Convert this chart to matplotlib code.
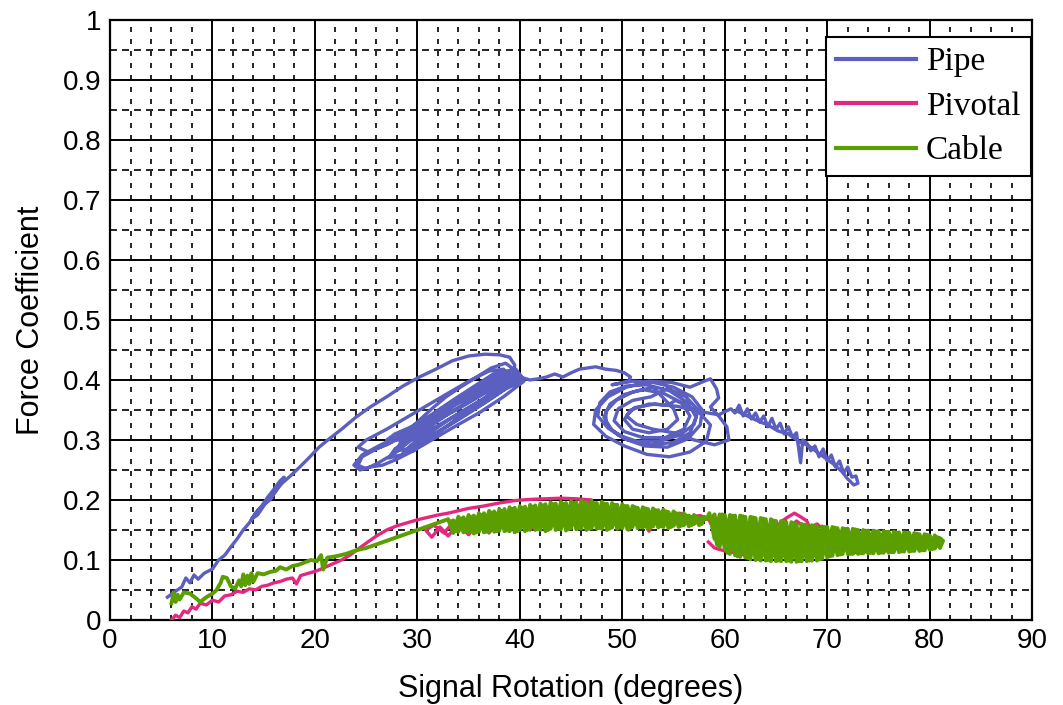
import matplotlib
matplotlib.use("Agg")
import matplotlib.pyplot as plt
from matplotlib.ticker import MultipleLocator, FixedLocator, FixedFormatter

# ---------------- data ----------------
pipe_x = [5.6, 6.4, 7.0, 7.4, 7.8, 8.2, 8.6, 9.2, 10.0, 10.6, 11.2, 11.8, 12.4, 13.0, 13.6, 14.2, 14.8, 15.4, 16.0, 16.6, 17.0,
          16.2, 15.6, 15.0, 14.4, 13.8, 14.4, 15.2, 16.0, 16.8, 17.6, 18.4, 19.4, 20.4, 21.4, 22.6, 24.0, 25.4, 27.0, 28.6,
          30.2, 31.8, 33.4, 35.0, 36.6, 38.0, 39.0, 39.5, 39.4, 38.6,
          37.0, 35.0, 33.0, 31.0, 29.0, 27.0, 25.2, 24.2, 25.0, 27.0, 29.0, 31.0, 33.0, 35.0, 37.0, 38.4, 39.0,
          37.6, 35.6, 33.4, 31.2, 29.4, 27.8, 26.2, 25.0, 24.2, 24.6, 26.0, 27.6, 29.6, 31.6, 33.6, 35.6, 37.4, 39.6, 40.2,
          38.8, 36.8, 34.6, 32.4, 30.4, 29.0, 28.0, 28.4, 29.8, 31.6, 33.4, 35.2, 36.8, 38.2, 39.4,
          37.6, 35.4, 33.2, 31.2, 29.4, 28.6, 29.6, 31.0, 32.8, 34.6, 36.4, 38.0, 39.6, 40.4,
          38.4, 36.0, 33.6, 31.4, 29.6, 28.0, 26.6, 25.4, 24.4, 23.8, 24.6, 26.2, 28.0, 29.0, 30.0, 31.4, 32.8, 34.2, 35.8,
          37.2, 38.6, 39.4,
          38.0, 36.2, 34.0, 32.0, 30.2, 28.8, 29.6, 31.4, 33.4, 35.4, 37.4, 39.2, 40.2,
          38.6, 36.6, 34.4, 32.2, 30.2, 28.4, 27.2, 27.8, 29.4, 31.2, 33.0, 34.8, 36.6, 38.4, 39.8,
          38.2, 36.0, 33.8, 31.6, 29.8, 28.2, 27.0, 27.8, 29.4, 31.2, 33.2, 35.2, 37.2, 38.8, 40.0,
          41.0, 41.8, 42.6, 43.4, 44.2, 45.0, 45.8, 46.6, 47.4, 48.4, 49.4, 50.2, 50.8, 50.6,
          49.0, 51.0, 53.0, 55.0, 56.8, 57.8, 57.6, 56.4, 54.4, 52.2, 50.2, 48.6, 47.6, 47.8, 48.8, 50.4,
          52.4, 54.6, 56.4, 57.2, 56.6, 55.0, 52.8, 50.6, 49.0, 48.2, 48.8, 50.2, 52.0,
          54.0, 55.8, 56.6, 56.0, 54.2, 52.0, 50.2, 49.2, 49.6, 51.0, 52.8,
          54.4, 56.2, 57.4, 57.0, 55.6, 53.6, 51.4, 49.6, 48.4, 48.4, 49.4, 51.0, 53.0,
          55.0, 55.4, 54.4, 52.6, 51.0, 50.2, 50.8, 52.6, 54.4,
          55.2, 57.4, 58.6, 58.2, 56.6, 54.6, 52.4, 50.2, 48.4, 47.2, 47.4, 48.6, 50.4, 52.6, 54.8, 56.6, 58.0, 58.6, 59.2,
          59.4,
          58.6, 59.4, 60.2, 60.4, 59.0, 57.0, 55.0, 53.0, 51.4, 50.4, 51.2, 53.2, 55.4, 57.4, 59.4,
          60.6, 61.0, 61.4, 61.8, 62.2, 62.6, 63.0, 63.4, 63.8, 64.2, 64.6, 65.0, 65.4, 65.8, 66.2, 66.6, 67.0, 67.4, 67.6,
          68.0, 68.4, 68.8, 69.2, 69.6, 70.0, 70.4, 70.8, 71.2, 71.6, 72.0, 72.4, 72.8, 73.0, 72.6, 72.0, 71.4, 70.6, 69.8,
          69.0, 68.2, 67.2, 66.2, 65.2, 64.2, 63.2, 62.2, 61.2]
pipe_y = [0.038, 0.048, 0.055, 0.070, 0.062, 0.075, 0.068, 0.078, 0.085, 0.100, 0.108, 0.122, 0.135, 0.150, 0.162, 0.178,
          0.190, 0.205, 0.218, 0.232, 0.238,
          0.215, 0.200, 0.192, 0.182, 0.168, 0.175, 0.195, 0.212, 0.228, 0.240, 0.253, 0.270, 0.288, 0.302, 0.318, 0.338,
          0.355, 0.372, 0.390, 0.405, 0.418, 0.432, 0.440, 0.443, 0.442, 0.438, 0.425, 0.410, 0.405,
          0.400, 0.378, 0.355, 0.332, 0.310, 0.292, 0.280, 0.288, 0.300, 0.318, 0.338, 0.358, 0.378, 0.398, 0.415, 0.418,
          0.408,
          0.392, 0.372, 0.348, 0.322, 0.300, 0.278, 0.262, 0.252, 0.258, 0.272, 0.285, 0.298, 0.322, 0.345, 0.368, 0.390,
          0.410, 0.418, 0.405,
          0.388, 0.365, 0.342, 0.318, 0.298, 0.285, 0.282, 0.298, 0.318, 0.340, 0.362, 0.382, 0.400, 0.412, 0.405,
          0.380, 0.358, 0.335, 0.312, 0.292, 0.278, 0.282, 0.300, 0.322, 0.345, 0.368, 0.390, 0.402, 0.398,
          0.372, 0.345, 0.322, 0.300, 0.282, 0.268, 0.258, 0.255, 0.250, 0.258, 0.275, 0.290, 0.305, 0.315, 0.330, 0.352,
          0.372, 0.388, 0.405, 0.420, 0.428, 0.418,
          0.402, 0.385, 0.365, 0.345, 0.325, 0.305, 0.300, 0.318, 0.338, 0.358, 0.378, 0.395, 0.398,
          0.385, 0.362, 0.338, 0.315, 0.292, 0.275, 0.270, 0.285, 0.305, 0.328, 0.350, 0.372, 0.392, 0.408, 0.410,
          0.395, 0.372, 0.350, 0.330, 0.312, 0.300, 0.300, 0.310, 0.322, 0.338, 0.355, 0.372, 0.392, 0.405, 0.405,
          0.400, 0.402, 0.405, 0.410, 0.405, 0.412, 0.418, 0.420, 0.422, 0.418, 0.416, 0.412, 0.405, 0.398,
          0.392, 0.398, 0.396, 0.388, 0.372, 0.350, 0.325, 0.302, 0.288, 0.290, 0.302, 0.320, 0.340, 0.362, 0.380, 0.390,
          0.392, 0.382, 0.362, 0.338, 0.312, 0.296, 0.292, 0.300, 0.316, 0.338, 0.360, 0.376, 0.384,
          0.378, 0.362, 0.340, 0.318, 0.304, 0.304, 0.314, 0.332, 0.352, 0.366, 0.372,
          0.386, 0.372, 0.350, 0.326, 0.308, 0.298, 0.298, 0.308, 0.326, 0.348, 0.366, 0.380, 0.388,
          0.352, 0.334, 0.318, 0.312, 0.318, 0.334, 0.350, 0.360, 0.358,
          0.366, 0.348, 0.325, 0.298, 0.280, 0.272, 0.276, 0.290, 0.306, 0.326, 0.350, 0.372, 0.388, 0.398, 0.396, 0.388,
          0.398, 0.402, 0.385, 0.370,
          0.355, 0.340, 0.322, 0.300, 0.292, 0.300, 0.312, 0.318, 0.326, 0.340, 0.354, 0.360, 0.356, 0.348, 0.342,
          0.352, 0.345, 0.358, 0.340, 0.352, 0.335, 0.345, 0.330, 0.340, 0.322, 0.336, 0.318, 0.328, 0.310, 0.322, 0.305,
          0.312, 0.262, 0.300, 0.295, 0.282, 0.290, 0.272, 0.285, 0.265, 0.275, 0.255, 0.265, 0.245, 0.255, 0.238, 0.240,
          0.228, 0.225, 0.235, 0.248, 0.260, 0.270, 0.280, 0.290, 0.298, 0.310, 0.315, 0.325, 0.332, 0.340, 0.348]

pivotal_x = [6.0, 6.4, 6.8, 7.2, 7.6, 8.0, 8.4, 8.8, 9.4, 10.0, 10.6, 11.2, 11.8, 12.4, 13.0, 13.6, 14.2, 14.8, 15.4, 16.0,
             16.6, 17.2, 17.8, 18.2, 18.6, 19.4, 20.2, 21.0, 21.8, 22.6, 23.4, 24.2, 25.0, 26.0, 27.0, 28.0, 29.0, 30.0,
             31.0, 32.0, 33.0, 34.0, 35.0, 36.5, 38.0, 39.5, 41.0, 42.5, 44.0, 45.5, 47.0,
             46.0, 45.0, 44.0, 43.0, 42.0, 41.0, 40.0, 39.0, 38.0, 37.0, 36.0, 35.0, 34.0, 33.0, 32.2, 31.4, 30.8, 31.6,
             32.6, 33.6,
             34.6, 35.6, 36.6, 37.6, 38.6, 39.6, 40.6, 41.6, 42.6, 43.6, 44.6, 45.6, 46.6, 47.6, 48.6, 49.6, 50.6, 51.6,
             52.6, 53.6, 54.6, 55.6, 56.6, 57.6, 58.4,
             59.0, 59.6, 60.2, 60.8, 61.4, 62.0, 62.6, 63.2, 63.8, 64.4, 65.0, 65.6, 66.2, 66.8, 67.4, 68.0, 68.4, 68.8,
             69.4, 70.0, 70.6, 71.2, 71.8, 72.6, 73.4, 74.2, 75.0, 75.8, 76.6, 77.4, 78.2, 79.0, 79.6,
             79.0, 78.0, 77.0, 76.0, 75.0, 74.0, 73.0, 72.0, 71.0, 70.0, 69.0, 68.0, 67.0, 66.0, 65.0, 64.0, 63.0, 62.0,
             61.0, 60.0, 59.0, 58.4]
pivotal_y = [0.000, 0.008, 0.004, 0.015, 0.012, 0.022, 0.018, 0.028, 0.025, 0.033, 0.030, 0.040, 0.042, 0.048, 0.046,
             0.052, 0.050, 0.056, 0.058, 0.062, 0.064, 0.068, 0.070, 0.060, 0.074, 0.078, 0.082, 0.088, 0.094, 0.100,
             0.108, 0.118, 0.128, 0.140, 0.150, 0.157, 0.162, 0.167, 0.171, 0.175, 0.178, 0.182, 0.186, 0.190, 0.195,
             0.199, 0.201, 0.202, 0.203, 0.202, 0.200,
             0.185, 0.160, 0.182, 0.155, 0.178, 0.150, 0.175, 0.148, 0.170, 0.145, 0.165, 0.142, 0.160, 0.140, 0.155,
             0.138, 0.150, 0.158, 0.145, 0.165,
             0.150, 0.172, 0.152, 0.175, 0.155, 0.180, 0.158, 0.183, 0.160, 0.185, 0.162, 0.188, 0.160, 0.185, 0.155,
             0.182, 0.150, 0.178, 0.148, 0.180, 0.175, 0.178, 0.172, 0.174, 0.168,
             0.150, 0.130, 0.145, 0.125, 0.140, 0.120, 0.145, 0.125, 0.150, 0.130, 0.155, 0.165, 0.172, 0.178, 0.172,
             0.165, 0.150, 0.140, 0.132, 0.128, 0.140, 0.125, 0.118, 0.112, 0.115, 0.112, 0.118, 0.115, 0.120, 0.118,
             0.122, 0.120, 0.125,
             0.132, 0.128, 0.135, 0.130, 0.138, 0.132, 0.140, 0.135, 0.150, 0.145, 0.160, 0.152, 0.165, 0.150, 0.140,
             0.120, 0.112, 0.108, 0.112, 0.115, 0.120, 0.130]

# cable: rising part, then noisy band 33-58, then noisy band 58-81
cable_rise_x = [6.0, 6.2, 6.4, 6.6, 6.8, 7.2, 7.8, 8.4, 8.8, 9.4, 10.0, 10.4, 10.8, 11.0, 11.4, 11.8, 12.2, 12.6, 12.8,
                13.0, 13.2, 13.4, 13.6, 13.8, 14.0, 14.4, 15.0, 15.6, 16.2, 16.6, 17.2, 17.8, 18.4, 19.0, 19.6, 20.2,
                20.6, 20.8, 21.2, 22.0, 23.0, 24.0, 25.0, 26.0, 27.0, 28.0, 29.0, 30.0, 31.0, 32.0]
cable_rise_y = [0.028, 0.045, 0.030, 0.042, 0.034, 0.046, 0.044, 0.036, 0.030, 0.038, 0.044, 0.050, 0.062, 0.072, 0.070,
                0.056, 0.052, 0.066, 0.056, 0.076, 0.058, 0.074, 0.060, 0.078, 0.064, 0.078, 0.076, 0.080, 0.082, 0.088,
                0.084, 0.090, 0.092, 0.096, 0.100, 0.098, 0.108, 0.084, 0.104, 0.106, 0.110, 0.116, 0.120, 0.126, 0.132,
                0.138, 0.144, 0.150, 0.156, 0.162]
cable_band1_x = [33.0, 33.5, 34.0, 34.5, 35.0, 35.5, 36.0, 36.5, 37.0, 37.5, 38.0, 38.5, 39.0, 39.5, 40.0, 40.5, 41.0,
                 41.5, 42.0, 42.5, 43.0, 43.5, 44.0, 44.5, 45.0, 45.5, 46.0, 46.5, 47.0, 47.5, 48.0, 48.5, 49.0, 49.5,
                 50.0, 50.5, 51.0, 51.5, 52.0, 52.5, 53.0, 53.5, 54.0, 54.5, 55.0, 55.5, 56.0, 56.5, 57.0, 57.5, 58.0,
                 57.75, 57.25, 56.75, 56.25, 55.75, 55.25, 54.75, 54.25, 53.75, 53.25, 52.75, 52.25, 51.75, 51.25,
                 50.75, 50.25, 49.75, 49.25, 48.75, 48.25, 47.75, 47.25, 46.75, 46.25, 45.75, 45.25, 44.75, 44.25,
                 43.75, 43.25, 42.75, 42.25, 41.75, 41.25, 40.75, 40.25, 39.75, 39.25, 38.75, 38.25, 37.75, 37.25,
                 36.75, 36.25, 35.75, 35.25, 34.75, 34.25, 33.75, 33.25,
                 33.5, 34.0, 34.5, 35.0, 35.5, 36.0, 36.5, 37.0, 37.5, 38.0, 38.5, 39.0, 39.5, 40.0, 40.5, 41.0, 41.5,
                 42.0, 42.5, 43.0, 43.5, 44.0, 44.5, 45.0, 45.5, 46.0, 46.5, 47.0, 47.5, 48.0, 48.5, 49.0, 49.5, 50.0,
                 50.5, 51.0, 51.5, 52.0, 52.5, 53.0, 53.5, 54.0, 54.5, 55.0, 55.5, 56.0, 56.5, 57.0, 57.5, 58.2]
cable_band1_y = [0.168, 0.145, 0.172, 0.146, 0.175, 0.144, 0.178, 0.146, 0.182, 0.147, 0.185, 0.148, 0.188, 0.146,
                 0.190, 0.148, 0.192, 0.150, 0.194, 0.148, 0.196, 0.150, 0.197, 0.149, 0.198, 0.151, 0.199, 0.150,
                 0.198, 0.152, 0.197, 0.150, 0.195, 0.152, 0.193, 0.151, 0.190, 0.153, 0.188, 0.152, 0.186, 0.154,
                 0.184, 0.153, 0.181, 0.155, 0.178, 0.156, 0.175, 0.158, 0.172,
                 0.160, 0.170, 0.158, 0.174, 0.157, 0.178, 0.155, 0.181, 0.156, 0.183, 0.154, 0.186, 0.155, 0.188,
                 0.153, 0.190, 0.154, 0.192, 0.152, 0.194, 0.153, 0.195, 0.152, 0.196, 0.153, 0.195, 0.151, 0.194,
                 0.152, 0.193, 0.150, 0.191, 0.151, 0.189, 0.150, 0.187, 0.148, 0.185, 0.149, 0.182, 0.148, 0.179,
                 0.147, 0.175, 0.146, 0.172, 0.147, 0.169, 0.148, 0.164,
                 0.166, 0.147, 0.171, 0.146, 0.174, 0.147, 0.178, 0.148, 0.181, 0.149, 0.185, 0.148, 0.187, 0.150,
                 0.189, 0.151, 0.191, 0.150, 0.193, 0.152, 0.194, 0.151, 0.195, 0.153, 0.196, 0.152, 0.196, 0.153,
                 0.195, 0.152, 0.194, 0.154, 0.192, 0.153, 0.190, 0.155, 0.187, 0.154, 0.185, 0.156, 0.183, 0.155,
                 0.180, 0.157, 0.177, 0.158, 0.174, 0.160, 0.170, 0.168]
cable_band2_x = [58.5, 59.0, 59.5, 60.0, 60.5, 61.0, 61.5, 62.0, 62.5, 63.0, 63.5, 64.0, 64.5, 65.0, 65.5, 66.0, 66.5,
                 67.0, 67.5, 68.0, 68.5, 69.0, 69.5, 70.0, 70.5, 71.0, 71.5, 72.0, 72.5, 73.0, 73.5, 74.0, 74.5, 75.0,
                 75.5, 76.0, 76.5, 77.0, 77.5, 78.0, 78.5, 79.0, 79.5, 80.0, 80.5, 81.0, 81.3,
                 80.75, 80.25, 79.75, 79.25, 78.75, 78.25, 77.75, 77.25, 76.75, 76.25, 75.75, 75.25, 74.75, 74.25,
                 73.75, 73.25, 72.75, 72.25, 71.75, 71.25, 70.75, 70.25, 69.75, 69.25, 68.75, 68.25, 67.75, 67.25,
                 66.75, 66.25, 65.75, 65.25, 64.75, 64.25, 63.75, 63.25, 62.75, 62.25, 61.75, 61.25, 60.75, 60.25,
                 59.75, 59.25, 58.75,
                 59.0, 59.5, 60.0, 60.5, 61.0, 61.5, 62.0, 62.5, 63.0, 63.5, 64.0, 64.5, 65.0, 65.5, 66.0, 66.5, 67.0,
                 67.5, 68.0, 68.5, 69.0, 69.5, 70.0, 70.5, 71.0, 71.5, 72.0, 72.5, 73.0, 73.5, 74.0, 74.5, 75.0, 75.5,
                 76.0, 76.5, 77.0, 77.5, 78.0, 78.5, 79.0, 79.5, 80.0, 80.5, 81.0]
cable_band2_y = [0.178, 0.135, 0.176, 0.118, 0.175, 0.108, 0.174, 0.104, 0.172, 0.100, 0.170, 0.099, 0.168, 0.098,
                 0.165, 0.098, 0.163, 0.097, 0.160, 0.098, 0.158, 0.099, 0.156, 0.104, 0.155, 0.108, 0.153, 0.110,
                 0.152, 0.110, 0.150, 0.111, 0.149, 0.111, 0.148, 0.112, 0.147, 0.113, 0.146, 0.114, 0.145, 0.115,
                 0.143, 0.117, 0.141, 0.120, 0.132,
                 0.138, 0.118, 0.142, 0.116, 0.144, 0.115, 0.145, 0.114, 0.146, 0.113, 0.147, 0.112, 0.148, 0.112,
                 0.149, 0.111, 0.151, 0.110, 0.152, 0.109, 0.154, 0.106, 0.155, 0.101, 0.157, 0.099, 0.159, 0.098,
                 0.161, 0.099, 0.164, 0.099, 0.166, 0.100, 0.169, 0.101, 0.171, 0.103, 0.173, 0.106, 0.174, 0.112,
                 0.176, 0.125, 0.170,
                 0.176, 0.122, 0.175, 0.110, 0.174, 0.105, 0.172, 0.101, 0.170, 0.099, 0.168, 0.098, 0.165, 0.098,
                 0.163, 0.097, 0.160, 0.098, 0.158, 0.099, 0.156, 0.102, 0.155, 0.107, 0.153, 0.110, 0.152, 0.110,
                 0.150, 0.111, 0.149, 0.111, 0.148, 0.112, 0.147, 0.113, 0.146, 0.114, 0.145, 0.115, 0.143, 0.116,
                 0.141, 0.119, 0.136]

x_ticks = [0, 10, 20, 30, 40, 50, 60, 70, 80, 90]
y_ticks = [0, 0.1, 0.2, 0.3, 0.4, 0.5, 0.6, 0.7, 0.8, 0.9, 1.0]
y_tick_labels = ['0', '0.1', '0.2', '0.3', '0.4', '0.5', '0.6', '0.7', '0.8', '0.9', '1']

# ---------------- figure ----------------
sans = ['Liberation Sans Narrow', 'Liberation Sans', 'DejaVu Sans']
serif = ['Liberation Serif', 'DejaVu Serif']

fig = plt.figure(figsize=(10.63, 7.05), dpi=100)
ax = fig.add_axes([0.1035, 0.1206, 0.8675, 0.851])

cable_x = cable_rise_x + cable_band1_x + cable_band2_x
cable_y = cable_rise_y + cable_band1_y + cable_band2_y

lw = 2.4
ax.plot(pipe_x, pipe_y, color='#5b5fbf', lw=lw, label='Pipe', zorder=3, solid_joinstyle='round')
ax.plot(pivotal_x, pivotal_y, color='#e5287f', lw=lw, label='Pivotal', zorder=4, solid_joinstyle='round')
ax.plot(cable_x, cable_y, color='#5a9e00', lw=lw + 0.4, label='Cable', zorder=5, solid_joinstyle='round')

ax.set_xlim(0, 90)
ax.set_ylim(0, 1)
ax.xaxis.set_major_locator(FixedLocator(x_ticks))
ax.yaxis.set_major_locator(FixedLocator(y_ticks))
ax.yaxis.set_major_formatter(FixedFormatter(y_tick_labels))
ax.xaxis.set_minor_locator(MultipleLocator(2))
ax.yaxis.set_minor_locator(MultipleLocator(0.05))

ax.set_axisbelow(True)
ax.grid(which='major', color='black', lw=1.4)
ax.xaxis.grid(which='minor', color='black', lw=1.2, linestyle=(0, (3, 4.2)))
ax.yaxis.grid(which='minor', color='black', lw=1.2, linestyle=(0, (4.2, 3)))
ax.tick_params(which='both', length=0, pad=6)
for lab in ax.get_xticklabels() + ax.get_yticklabels():
    lab.set_family(sans)
    lab.set_fontsize(20)
for sp in ax.spines.values():
    sp.set_linewidth(1.6)
    sp.set_color('black')

ax.set_xlabel('Signal Rotation (degrees)', family=sans, fontsize=22, labelpad=14)
ax.set_ylabel('Force Coefficient', family=sans, fontsize=22, labelpad=12)

leg = ax.legend(loc='upper right', bbox_to_anchor=(1.0, 0.975), prop={'family': serif, 'size': 24},
                frameon=True, fancybox=False, framealpha=1, edgecolor='black',
                handlelength=2.4, handletextpad=0.3, borderpad=0.3, labelspacing=0.42, borderaxespad=0.05)
leg.get_frame().set_linewidth(1.5)
for h in leg.get_lines():
    h.set_linewidth(3)

fig.savefig('out.png', dpi=100)
